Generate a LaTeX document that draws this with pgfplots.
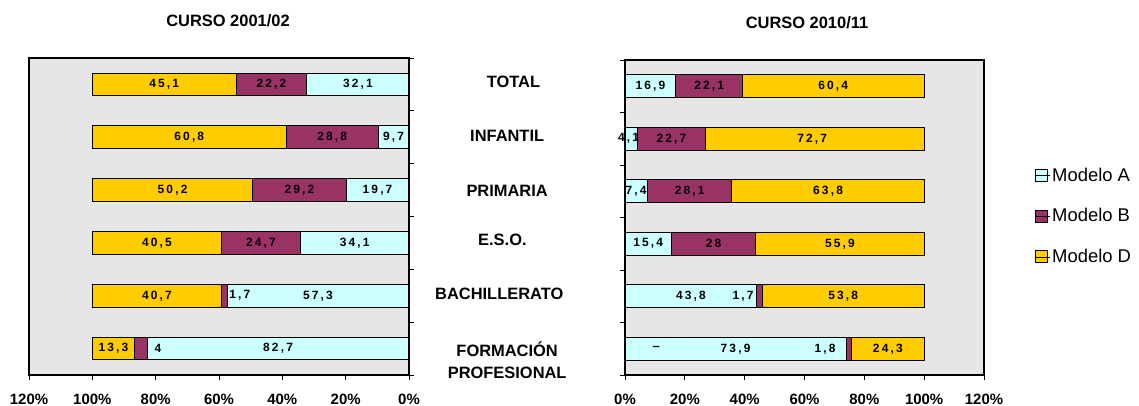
\documentclass[border=0pt]{standalone}
\usepackage{pgfplots}
\pgfplotsset{compat=1.18}
\usepackage{pgfplotstable}
\usepackage{fontspec}
\setmainfont{Liberation Sans}
\newfontfamily\labfont[LetterSpace=18]{Liberation Sans}
\definecolor{cA}{HTML}{CCFFFF}
\definecolor{cB}{HTML}{993366}
\definecolor{cD}{HTML}{FFCC00}
\definecolor{bg}{HTML}{E6E6E6}
\newcommand{\lab}{\labfont\bfseries\fontsize{12}{12}\selectfont}
\newcommand{\catf}{\bfseries\fontsize{16.5}{22}\selectfont}

% plotted shares (normalised to 100) and printed labels
\pgfplotstableread{
y A     B     D     La   Lb   Ld   Oa  Ob
0 32.29 22.33 45.38 32,1 22,2 45,1 0   0
1 9.77  29.00 61.23 9,7  28,8 60,8 0   0
2 19.88 29.46 50.66 19,7 29,2 50,2 0   0
3 34.34 24.87 40.79 34,1 24,7 40,5 0   0
4 57.47 1.71  40.82 57,3 1,7  40,7 0   -4.9
5 82.7  4.0   13.3  82,7 4    13,3 0   -5.4
}\leftdata
\pgfplotstableread{
y A     B     D     La   Lb   Ld   Oa  Ob
0 17.00 22.23 60.77 16,9 22,1 60,4 0   0
1 4.12  22.81 73.07 4,1  22,7 72,7 -0.9 0
2 7.45  28.30 64.25 7,4  28,1 63,8 0   0
3 15.51 28.20 56.29 15,4 28   55,9 0   0
4 44.11 1.71  54.18 43,8 1,7  53,8 0   -5.5
5 73.9  1.8   24.3  73,9 1,8  24,3 0   -7.9
}\rightdata

\pgfplotsset{
  panel/.style={
    scale only axis, xbar stacked, bar width=0.43,
    ymin=-0.5, ymax=5.5, y dir=reverse, xmin=0, xmax=120,
    xtick={0,20,...,120},
    xticklabels={0\%,20\%,40\%,60\%,80\%,100\%,120\%},
    ytick={-0.5,0.5,...,5.5}, yticklabels={},
    tick align=outside, major tick length=5bp,
    tick style={black, line width=0.8pt},
    axis line style={black, line width=1.2pt},
    axis background/.style={fill=bg},
    ticklabel style={font=\bfseries\fontsize{15}{15}\selectfont},
    xticklabel style={yshift=-11bp},
    clip=false,
  },
  % labels sit at the middle of each segment; small ones are moved aside
  seg/.style n args={2}{draw=black, line width=1pt, fill=#1,
    nodes near coords, point meta=explicit symbolic,
    visualization depends on={\thisrow{#2} \as \lbloff},
    every node near coord/.append style={anchor=center, font=\lab, text=black, inner sep=0pt,
      shift={(axis direction cs:\lbloff,0)}},
  },
  sq/.style={legend image code/.code={%
    \draw[black, fill=#1, line width=0.8pt] (0bp,-6bp) rectangle (12bp,6bp);
    \path (0bp,0bp) -- (15bp,0bp);}},
}

\begin{document}
\begin{tikzpicture}
\useasboundingbox (0bp,0bp) rectangle (1139bp,406bp);
\node[font=\bfseries\fontsize{16.5}{16.5}\selectfont] at (228bp,385bp) {CURSO 2001/02};
\node[font=\bfseries\fontsize{16.5}{16.5}\selectfont] at (807bp,383bp) {CURSO 2010/11};

\begin{axis}[panel, at={(29bp,31bp)}, anchor=south west, width=380bp, height=317bp,
  x dir=reverse, ytick pos=right, xtick pos=bottom]
\addplot[seg={cA}{Oa}] table[x=A, y=y, meta=La] {\leftdata};
\addplot[seg={cB}{Ob}] table[x=B, y=y, meta=Lb] {\leftdata};
\addplot[seg={cD}{Oa}] table[x=D, y=y, meta=Ld] {\leftdata};
\node[font=\catf] at (axis cs:-33,-0.05) {TOTAL};
\node[font=\catf] at (axis cs:-31,0.98) {INFANTIL};
\node[font=\catf] at (axis cs:-31,2.02) {PRIMARIA};
\node[font=\catf] at (axis cs:-29.5,2.95) {E.S.O.};
\node[font=\catf] at (axis cs:-28.5,3.96) {BACHILLERATO};
\node[font=\catf, align=center] at (axis cs:-31,5.22) {FORMACIÓN\\PROFESIONAL};
\end{axis}

\begin{axis}[panel, at={(625bp,31bp)}, anchor=south west, width=359bp, height=315bp,
  ytick pos=left, xtick pos=bottom,
  after end axis/.code={\node[font=\bfseries\fontsize{13}{13}\selectfont, text=black] at (axis cs:10.4,5) {–};},
  legend style={at={(1.132,0.505)}, anchor=west, draw=none, fill=none,
    font=\fontsize{18.5}{18.5}\selectfont, row sep=22bp},
  legend cell align=left]
\addplot[seg={cA}{Oa}, forget plot] table[x=A, y=y, meta=La] {\rightdata};
\addplot[seg={cB}{Ob}, forget plot] table[x=B, y=y, meta=Lb] {\rightdata};
\addplot[seg={cD}{Oa}, forget plot] table[x=D, y=y, meta=Ld] {\rightdata};
\addlegendimage{sq=cA}
\addlegendentry{Modelo A}
\addlegendimage{sq=cB}
\addlegendentry{Modelo B}
\addlegendimage{sq=cD}
\addlegendentry{Modelo D}
\end{axis}
\end{tikzpicture}
\end{document}
